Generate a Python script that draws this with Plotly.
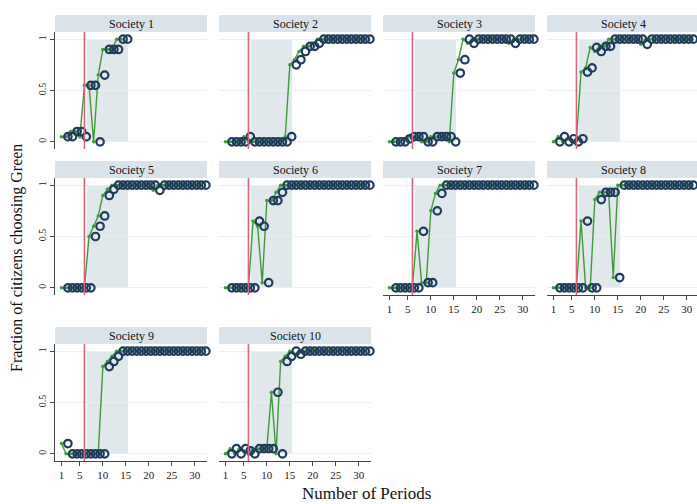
import plotly.graph_objects as go

# ---------------- data ----------------
periods = list(range(1, 32))
society_names = [f"Society {i}" for i in range(1, 11)]

s1 = [0.05, 0.05, 0.1, 0.1, 0.05, 0.55, 0.55, 0.0, 0.65, 0.9, 0.9, 0.9, 1.0, 1.0]
s2 = [0, 0, 0, 0, 0.05, 0, 0, 0, 0, 0, 0, 0, 0, 0.05, 0.75, 0.8, 0.88, 0.93, 0.93, 0.96,
      1, 1, 1, 1, 1, 1, 1, 1, 1, 1, 1]
s3 = [0, 0, 0, 0.03, 0.05, 0.05, 0.05, 0, 0, 0.05, 0.05, 0.05, 0.05, 0, 0.67, 0.8, 1.0, 0.96,
      1, 1, 1, 1, 1, 1, 1, 1, 0.96, 1, 1, 1, 1]
s4 = [0, 0.05, 0, 0.03, 0, 0.03, 0.68, 0.72, 0.92, 0.88, 0.93, 0.93,
      1, 1, 1, 1, 1, 1, 1, 0.95, 1, 1, 1, 1, 1, 1, 1, 1, 1, 1, 1]
s5 = [0, 0, 0, 0, 0, 0, 0.5, 0.6, 0.7, 0.9, 0.96,
      1, 1, 1, 1, 1, 1, 1, 1, 1, 0.95, 1, 1, 1, 1, 1, 1, 1, 1, 1, 1]
s6 = [0, 0, 0, 0, 0, 0, 0.65, 0.6, 0.05, 0.85, 0.85, 0.93,
      1, 1, 1, 1, 1, 1, 1, 1, 1, 1, 1, 1, 1, 1, 1, 1, 1, 1, 1]
s7 = [0, 0, 0, 0, 0, 0, 0.55, 0.05, 0.05, 0.75, 0.92,
      1, 1, 1, 1, 1, 1, 1, 1, 1, 1, 1, 1, 1, 1, 1, 1, 1, 1, 1, 1]
s8 = [0, 0, 0, 0, 0, 0, 0.65, 0, 0, 0.86, 0.93, 0.93, 0.93, 0.1,
      1, 1, 1, 1, 1, 1, 1, 1, 1, 1, 1, 1, 1, 1, 1, 1, 1]
s9 = [0.1, 0, 0, 0, 0, 0, 0, 0, 0, 0.85, 0.9, 0.95,
      1, 1, 1, 1, 1, 1, 1, 1, 1, 1, 1, 1, 1, 1, 1, 1, 1, 1, 1]
s10 = [0, 0.05, 0, 0.05, 0.03, 0, 0.05, 0.05, 0.05, 0.05, 0.6, 0, 0.9, 0.95, 1, 0.97,
       1, 1, 1, 1, 1, 1, 1, 1, 1, 1, 1, 1, 1, 1, 1]
series = [s1, s2, s3, s4, s5, s6, s7, s8, s9, s10]

x_ticks = [1, 5, 10, 15, 20, 25, 30]
y_ticks = [0, 0.5, 1]
y_tick_labels = ["0", "0.5", "1"]
treatment_period = 6
shade_start, shade_end = 6.5, 15.5

# ---------------- styling / layout ----------------
W, H = 697, 504
SERIF = "Liberation Serif, Times New Roman, serif"
GREEN = "#3f9b3a"
NAVY = "#1f3c5c"
RED = "#d8667c"
SHADE = "#e1e8ec"
HEADER = "#d9e3e9"
label_offset = 1.4

col_left = [55, 219, 383, 547]
panel_w = 152
row_top = [32, 178, 344]
panel_h = 117
header_h = 17
ppu = 4.6
x_min = -0.4
y_range = [-0.07, 1.07]

fig = go.Figure()
layout = dict(
    width=W, height=H,
    margin=dict(l=0, r=0, t=0, b=0),
    paper_bgcolor="white", plot_bgcolor="white",
    showlegend=False,
    font=dict(family=SERIF, color="#222"),
)
shapes = []
annotations = []

for i, vals in enumerate(series):
    r, c = divmod(i, 4)
    n = i + 1
    xname = "xaxis" if n == 1 else f"xaxis{n}"
    yname = "yaxis" if n == 1 else f"yaxis{n}"
    xr = "x" if n == 1 else f"x{n}"
    yr = "y" if n == 1 else f"y{n}"

    left = col_left[c]
    right = min(left + panel_w, W)
    top = row_top[r]
    bottom = top + panel_h
    x_max = x_min + (right - left) / ppu

    show_x = i in (6, 7, 8, 9)
    show_y = c == 0

    layout[xname] = dict(
        domain=[left / W, right / W], anchor=yr, range=[x_min, x_max],
        tickvals=x_ticks if show_x else [], showticklabels=show_x,
        ticks="outside" if show_x else "", ticklen=4, tickcolor="#444",
        showline=show_x, linecolor="#444", linewidth=1,
        showgrid=False, zeroline=False,
        tickfont=dict(family=SERIF, size=11, color="#222"),
    )
    layout[yname] = dict(
        domain=[1 - bottom / H, 1 - top / H], anchor=xr, range=y_range,
        tickvals=y_ticks, ticktext=y_tick_labels, showticklabels=show_y,
        ticks="outside" if show_y else "", ticklen=4, tickcolor="#444",
        tickangle=-90,
        showline=show_y, linecolor="#444", linewidth=1,
        showgrid=True, gridcolor="#eaf0f2", gridwidth=1, zeroline=False,
        tickfont=dict(family=SERIF, size=10, color="#222"),
    )

    # header strip
    shapes.append(dict(type="rect", xref="paper", yref="paper",
                       x0=left / W, x1=right / W,
                       y0=1 - top / H, y1=1 - (top - header_h) / H,
                       fillcolor=HEADER, line=dict(width=0), layer="below"))
    annotations.append(dict(text=society_names[i], xref="paper", yref="paper",
                            x=(left + panel_w / 2) / W, y=1 - (top - header_h / 2) / H,
                            showarrow=False, xanchor="center", yanchor="middle",
                            font=dict(family=SERIF, size=12, color="#111")))
    # shaded window
    shapes.append(dict(type="rect", xref=xr, yref=yr,
                       x0=shade_start, x1=shade_end, y0=0, y1=1,
                       fillcolor=SHADE, line=dict(width=0), layer="below"))
    # treatment line
    shapes.append(dict(type="line", xref=xr, yref=f"{yr} domain",
                       x0=treatment_period, x1=treatment_period, y0=0, y1=1,
                       line=dict(color=RED, width=1.6), layer="above"))

    p = periods[:len(vals)]
    fig.add_trace(go.Scatter(
        x=p, y=vals, xaxis=xr, yaxis=yr, mode="lines+markers",
        line=dict(color=GREEN, width=1.4),
        marker=dict(color=GREEN, size=3.5),
        hoverinfo="skip", cliponaxis=False))
    fig.add_trace(go.Scatter(
        x=[v + label_offset for v in p], y=vals, xaxis=xr, yaxis=yr, mode="markers",
        marker=dict(symbol="circle-open", size=7.5, color=NAVY, line=dict(width=2.2, color=NAVY)),
        hoverinfo="skip", cliponaxis=False))

annotations.append(dict(text="Fraction of citizens choosing Green", xref="paper", yref="paper",
                        x=17 / W, y=1 - 258 / H, textangle=-90, showarrow=False,
                        xanchor="center", yanchor="middle",
                        font=dict(family=SERIF, size=16, color="#111")))
annotations.append(dict(text="Number of Periods", xref="paper", yref="paper",
                        x=367 / W, y=1 - 493 / H, showarrow=False,
                        xanchor="center", yanchor="middle",
                        font=dict(family=SERIF, size=17, color="#111")))

layout["shapes"] = shapes
layout["annotations"] = annotations
fig.update_layout(**layout)
fig.write_html("out.html", config={"displayModeBar": False},
               post_script="document.body.style.margin='0';document.body.style.overflow='hidden';")
